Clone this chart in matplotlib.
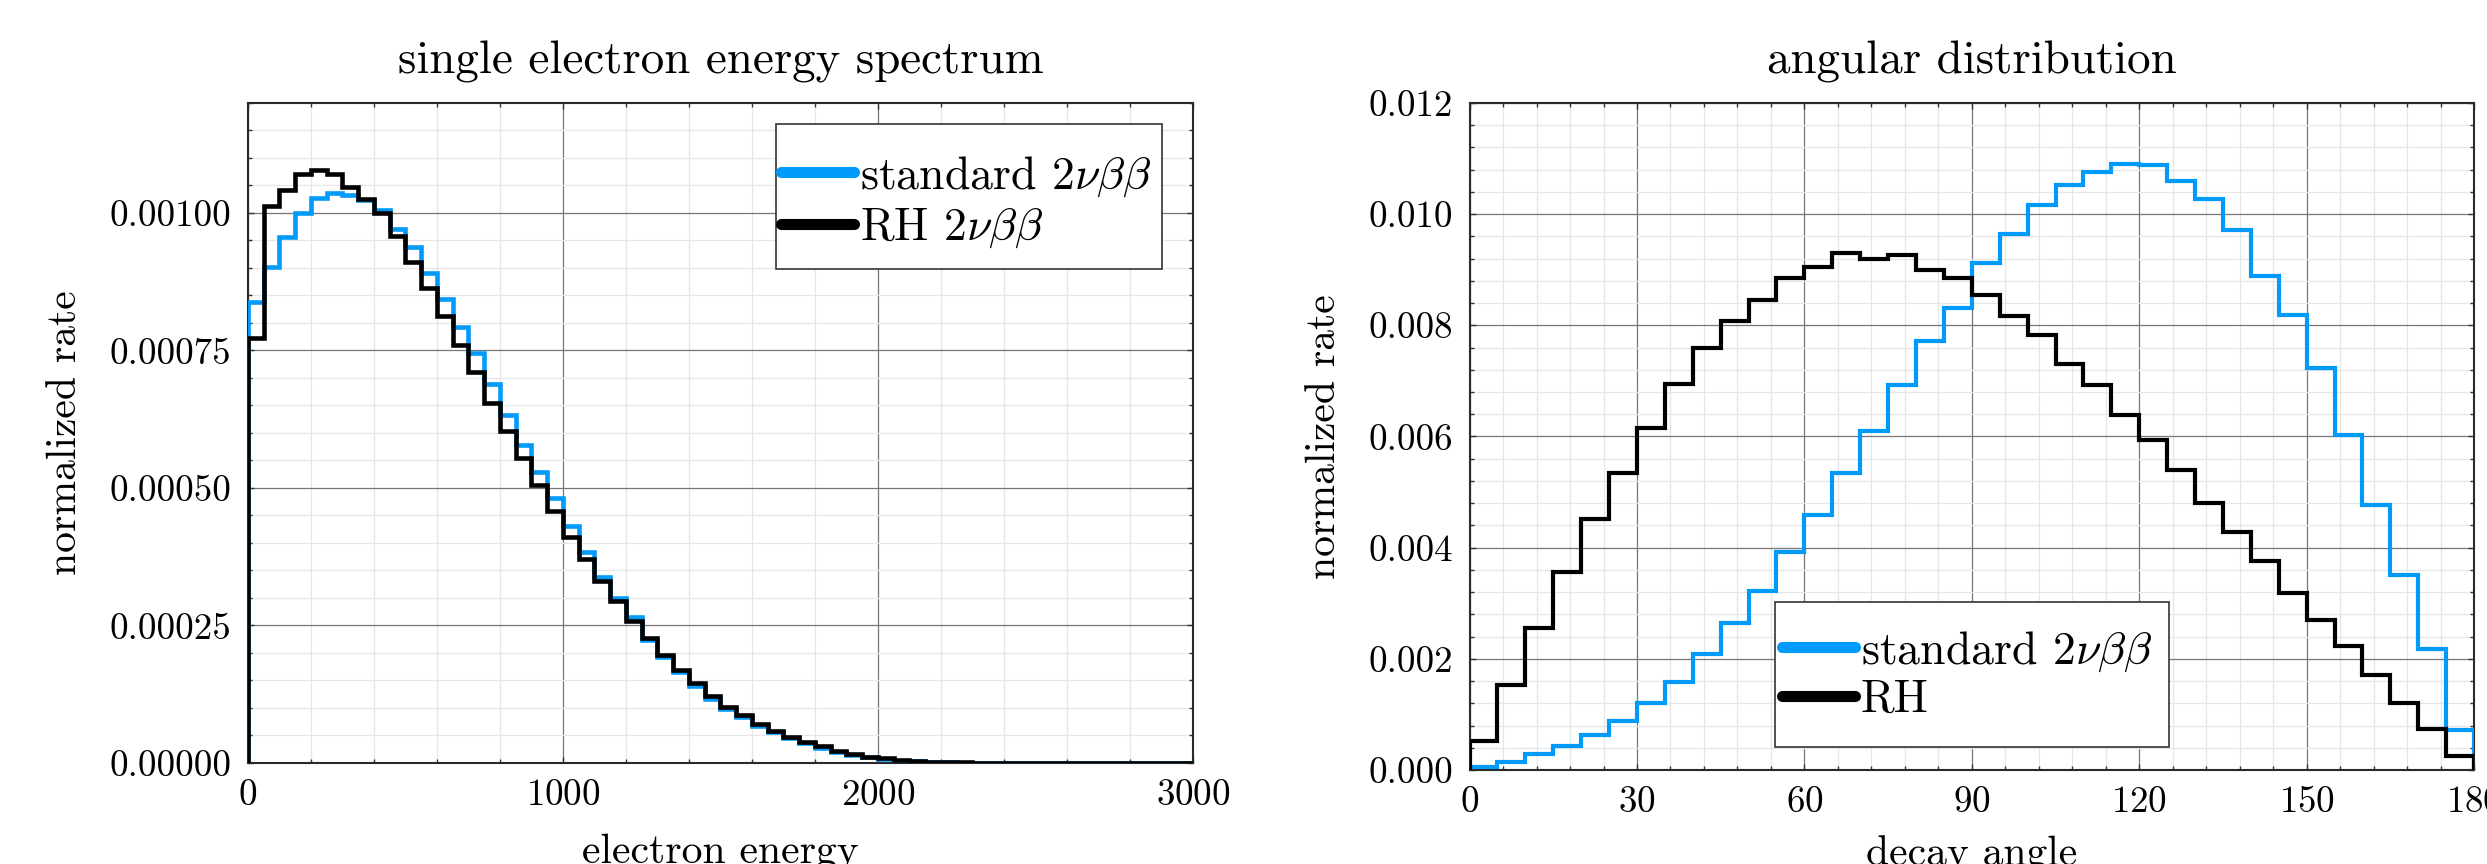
import numpy as np
import matplotlib
matplotlib.use("Agg")
import matplotlib.pyplot as plt
from matplotlib.patches import Rectangle
from matplotlib.ticker import MultipleLocator, AutoMinorLocator, FormatStrFormatter

# single electron energy spectrum, 50 keV bins from 0 to 3000
energy_edges = np.arange(0, 3001, 50)
energy_standard = [
    0.000838, 0.000901, 0.000957, 0.001000, 0.001028, 0.001036, 0.001033, 0.001023,
    0.001006, 0.000970, 0.000939, 0.000891, 0.000843, 0.000792, 0.000745, 0.000689,
    0.000633, 0.000578, 0.000529, 0.000482, 0.000431, 0.000384, 0.000338, 0.000300,
    0.000265, 0.000224, 0.000193, 0.000165, 0.000140, 0.000117, 0.000098, 0.0000835,
    0.0000675, 0.0000555, 0.0000450, 0.0000360, 0.0000280, 0.0000200, 0.0000145, 0.0000100,
    0.0000070, 0.0000045, 0.0000030, 0.0000020, 0.0000012, 0.0000007, 0.0000004, 0.0000002,
    0.0000001, 0, 0, 0, 0, 0, 0, 0, 0, 0, 0, 0,
]
energy_rh = [
    0.000773, 0.001012, 0.001041, 0.001070, 0.001079, 0.001071, 0.001048, 0.001026,
    0.001000, 0.000959, 0.000910, 0.000864, 0.000813, 0.000760, 0.000710, 0.000654,
    0.000603, 0.000554, 0.000505, 0.000458, 0.000411, 0.000371, 0.000330, 0.000295,
    0.000258, 0.000228, 0.000196, 0.000169, 0.000145, 0.000121, 0.000102, 0.0000873,
    0.0000709, 0.0000588, 0.0000478, 0.0000388, 0.0000305, 0.0000220, 0.0000164, 0.0000115,
    0.0000085, 0.0000055, 0.0000040, 0.0000025, 0.0000015, 0.0000010, 0.0000006, 0.0000004,
    0.0000002, 0.0000001, 0, 0, 0, 0, 0, 0, 0, 0, 0, 0,
]

# angular distribution, 5 degree bins from 0 to 180
angle_edges = np.arange(0, 181, 5)
angle_standard = [
    0.00006, 0.00015, 0.00029, 0.00043, 0.00063, 0.00089, 0.00121, 0.00159, 0.00209,
    0.00265, 0.00322, 0.00393, 0.00459, 0.00535, 0.00609, 0.00692, 0.00771, 0.00832,
    0.00913, 0.00965, 0.01017, 0.01052, 0.01075, 0.01091, 0.01089, 0.01059, 0.01028,
    0.00971, 0.00888, 0.00818, 0.00723, 0.00603, 0.00477, 0.00351, 0.00218, 0.00072,
]
angle_rh = [
    0.000522, 0.00153, 0.00256, 0.00357, 0.00451, 0.00535, 0.00615, 0.00694, 0.00759,
    0.00808, 0.00846, 0.00885, 0.00905, 0.00930, 0.00920, 0.00927, 0.00900, 0.00885,
    0.00855, 0.00817, 0.00782, 0.00730, 0.00692, 0.00639, 0.00593, 0.00540, 0.00480,
    0.00429, 0.00376, 0.00318, 0.00270, 0.00223, 0.00171, 0.00120, 0.00074, 0.00025,
]

BLUE = "#009AFA"
BLACK = "#000000"

plt.rcParams["font.family"] = "serif"
plt.rcParams["font.serif"] = ["cmr10"]
plt.rcParams["mathtext.fontset"] = "cm"
plt.rcParams["axes.formatter.use_mathtext"] = True

fig = plt.figure(figsize=(24.87, 8.64), dpi=100)
ax1 = fig.add_axes([0.0997, 0.1169, 0.3800, 0.7639])
ax2 = fig.add_axes([0.5909, 0.1088, 0.4039, 0.7720])


def style(ax):
    ax.minorticks_on()
    ax.xaxis.set_minor_locator(AutoMinorLocator(5))
    ax.yaxis.set_minor_locator(AutoMinorLocator(5))
    ax.grid(which="major", color="#777777", lw=0.9, zorder=0)
    ax.grid(which="minor", color="#e6e6e6", lw=0.9, zorder=0)
    ax.set_axisbelow(True)
    ax.tick_params(which="both", direction="in", top=True, right=True,
                   labelsize=26.6, color="#333333")
    ax.tick_params(which="major", length=4, width=1)
    ax.tick_params(which="minor", length=3, width=1)
    ax.tick_params(axis="x", pad=11)
    ax.tick_params(axis="y", pad=12)
    for s in ax.spines.values():
        s.set_linewidth(1.5)
        s.set_color("#2a2a2a")


def legend_box(ax, labels, anchor, box, spacing):
    leg = ax.legend(labels, loc="center left", bbox_to_anchor=anchor,
                    frameon=False, fontsize=33, borderpad=0, borderaxespad=0,
                    handlelength=1.6, handletextpad=0.12, labelspacing=spacing)
    for line in leg.get_lines():
        line.set_linewidth(8)
        line.set_solid_capstyle("round")
    leg.set_zorder(6)
    ax.add_patch(Rectangle(box[:2], box[2], box[3], transform=ax.transAxes,
                           facecolor="white", edgecolor="#333333", lw=1.2,
                           zorder=5, clip_on=False))


# left panel
ax1.stairs(energy_standard, energy_edges, baseline=0, color=BLUE, lw=3.3, zorder=3)
ax1.stairs(energy_rh, energy_edges, baseline=0, color=BLACK, lw=3.3, zorder=3)
ax1.set_xlim(0, 3000)
ax1.set_ylim(0, 0.0012)
ax1.xaxis.set_major_locator(MultipleLocator(1000))
ax1.yaxis.set_major_locator(MultipleLocator(0.00025))
ax1.yaxis.set_major_formatter(FormatStrFormatter("%.5f"))
style(ax1)
ax1.set_title("single electron energy spectrum", fontsize=33.8, pad=21)
ax1.set_xlabel("electron energy", fontsize=30, labelpad=16)
ax1.set_ylabel("normalized rate", fontsize=30, labelpad=18)
legend_box(ax1, [r"standard $2\nu\beta\beta$", r"RH $2\nu\beta\beta$"],
           (0.564, 0.850), (0.5587, 0.7485, 0.4083, 0.2197), 0.17)

# right panel
ax2.stairs(angle_standard, angle_edges, baseline=0, color=BLUE, lw=3.0, zorder=3)
ax2.stairs(angle_rh, angle_edges, baseline=0, color=BLACK, lw=3.0, zorder=3)
ax2.set_xlim(0, 180)
ax2.set_ylim(0, 0.012)
ax2.xaxis.set_major_locator(MultipleLocator(30))
ax2.yaxis.set_major_locator(MultipleLocator(0.002))
ax2.yaxis.set_major_formatter(FormatStrFormatter("%.3f"))
style(ax2)
ax2.set_title("angular distribution", fontsize=33.8, pad=21)
ax2.set_xlabel("decay angle", fontsize=30, labelpad=12)
ax2.set_ylabel("normalized rate", fontsize=30, labelpad=18)
legend_box(ax2, [r"standard $2\nu\beta\beta$", "RH"],
           (0.3111, 0.1424), (0.304, 0.0345, 0.392, 0.2174), 0.12)

fig.savefig("out.png", dpi=100)
